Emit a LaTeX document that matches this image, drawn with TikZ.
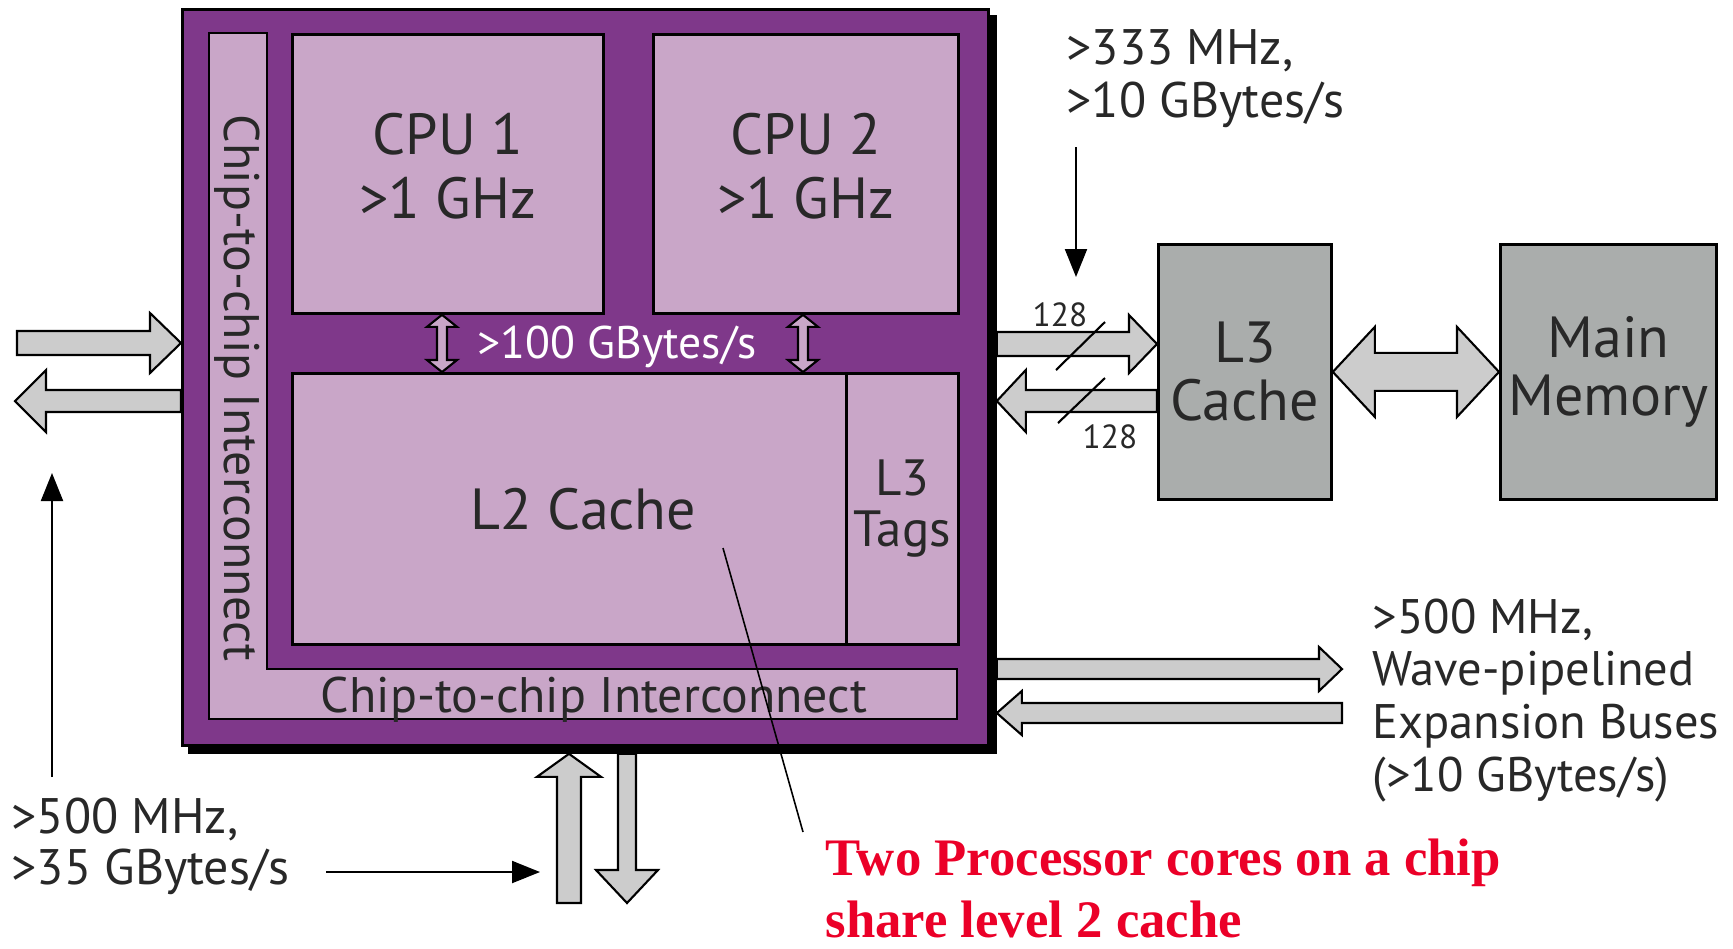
\documentclass[tikz,border=0pt]{standalone}
\usepackage{fontspec}
\setmainfont{PT Sans}
\newfontfamily\notefont{Liberation Serif}
\usepackage{xcolor}
\usepackage{tikz}
\usetikzlibrary{positioning,calc,arrows.meta}

\definecolor{chippurple}{RGB}{127,56,138}
\definecolor{lightpurple}{RGB}{201,166,200}
\definecolor{arrowgray}{RGB}{204,204,204}
\definecolor{boxgray}{RGB}{170,173,172}
\definecolor{textgray}{RGB}{40,40,40}
\definecolor{notered}{RGB}{235,0,40}

% block arrows: [style]{tail}{tip}{shaft half}{head half}{head offset from tip}
\newcommand\hblk[6][blk]{%
  \draw[#1] ($(#2)+(0,-#4)$) -- ($(#3)+(#6,-#4)$) -- ($(#3)+(#6,-#5)$) -- (#3)
    -- ($(#3)+(#6,#5)$) -- ($(#3)+(#6,#4)$) -- ($(#2)+(0,#4)$) -- cycle;}
\newcommand\vblk[6][blk]{%
  \draw[#1] ($(#2)+(-#4,0)$) -- ($(#3)+(-#4,#6)$) -- ($(#3)+(-#5,#6)$) -- (#3)
    -- ($(#3)+(#5,#6)$) -- ($(#3)+(#4,#6)$) -- ($(#2)+(#4,0)$) -- cycle;}
% double block arrows: [style]{first tip}{second tip}{shaft half}{head half}{head length}
\newcommand\hdbl[6][blk]{%
  \draw[#1] (#2) -- ($(#2)+(#6,-#5)$) -- ($(#2)+(#6,-#4)$) -- ($(#3)+(-#6,-#4)$) -- ($(#3)+(-#6,-#5)$) -- (#3)
    -- ($(#3)+(-#6,#5)$) -- ($(#3)+(-#6,#4)$) -- ($(#2)+(#6,#4)$) -- ($(#2)+(#6,#5)$) -- cycle;}
\newcommand\vdbl[6][blk]{%
  \draw[#1] (#2) -- ($(#2)+(-#5,#6)$) -- ($(#2)+(-#4,#6)$) -- ($(#3)+(-#4,-#6)$) -- ($(#3)+(-#5,-#6)$) -- (#3)
    -- ($(#3)+(#5,-#6)$) -- ($(#3)+(#4,-#6)$) -- ($(#2)+(#4,#6)$) -- ($(#2)+(#5,#6)$) -- cycle;}

\begin{document}
\begin{tikzpicture}[
  x=0.1mm, y=-0.1mm,
  font=\fontsize{16.5}{18}\selectfont, text=textgray,
  box/.style={draw, line width=0.8pt, inner sep=0pt, anchor=north west, align=center},
  core/.style={box, fill=lightpurple},
  mem/.style={box, fill=boxgray, font=\fontsize{16.5}{16.5}\selectfont},
  blk/.style={draw, line width=0.6pt, fill=arrowgray},
  bandarr/.style={draw, line width=0.6pt, fill=lightpurple},
  thin/.style={-{Triangle[length=2.8mm,width=2.2mm]}, line width=0.6pt},
  note/.style={font=\fontsize{14.2}{15.1}\selectfont, align=left, anchor=north west, inner sep=0pt},
  small/.style={font=\fontsize{9.5}{10}\selectfont, inner sep=0pt},
]
\useasboundingbox (0,0) rectangle (1733,948);

% chip
\node[box, fill=black, minimum width=80.6mm, minimum height=73.6mm] (chipshade) at (188,15) {};
\node[box, fill=chippurple, minimum width=80.6mm, minimum height=73.6mm] (chip) at (181,8) {};
\draw[line width=0.8pt, fill=lightpurple] (209,33) -| (267,669) -| (957,719) -- (209,719) -- cycle;
\node[rotate=-90, font=\fontsize{14.2}{16}\selectfont, inner sep=0pt] (icvert) at (237,388) {Chip-to-chip Interconnect};
\node[anchor=base, font=\fontsize{14.2}{16}\selectfont, inner sep=0pt] (ichoriz) at (594,712) {Chip-to-chip Interconnect};

\node[core, minimum width=31.1mm, minimum height=27.9mm, text depth=1.6mm] (cpuone) at (291,33) {CPU 1\\>1 GHz};
\node[core, minimum width=30.5mm, minimum height=27.9mm, text depth=1.6mm] (cputwo) at (652,33) {CPU 2\\>1 GHz};
\node[core, minimum width=55.4mm, minimum height=27.1mm] (ltwo) at (291,372) {\hspace*{2.8mm}L2 Cache};
\node[core, minimum width=11.2mm, minimum height=27.1mm, font=\fontsize{14.5}{14.5}\selectfont] (ltags) at (845,372) {L3\\Tags};

\node[anchor=base, text=white, font=\fontsize{13}{14}\selectfont, inner sep=0pt] (band) at (617,358) {>100 GBytes/s};
\coordinate (bwa) at (cpuone.south -| 442,0);
\coordinate (bwb) at (ltwo.north -| 442,0);
\coordinate (bwc) at (cputwo.south -| 803,0);
\coordinate (bwd) at (ltwo.north -| 803,0);
\vdbl[bandarr]{bwa}{bwb}{5}{15}{12}
\vdbl[bandarr]{bwc}{bwd}{5}{15}{12}

% memory side
\node[mem, minimum width=17.3mm, minimum height=25.5mm] (lthree) at (1157,243) {L3\\Cache};
\node[mem, minimum width=21.6mm, minimum height=25.5mm] (mainmem) at (1499,243) {Main\\Memory};
\hdbl{lthree.east}{mainmem.west}{19}{45}{42}

\coordinate (ra) at (chipshade.east |- 0,344);
\coordinate (rb) at (lthree.west |- 0,344);
\coordinate (rc) at (lthree.west |- 0,401);
\coordinate (rd) at (chipshade.east |- 0,401);
\hblk{ra}{rb}{12}{29}{-28}
\hblk{rc}{rd}{11}{31}{29}
\draw[line width=0.6pt] (1056,370) -- (1105,322);
\draw[line width=0.6pt] (1058,423) -- (1105,378);
\node[small] (wtop) at (1060,315) {128};
\node[small] (wbot) at (1110,437) {128};

\node[note] (l3note) at (1066,29) {>333 MHz,\\>10 GBytes/s};
\coordinate (l3a) at (1076,147);
\coordinate (l3b) at (1076,277);
\draw[thin] (l3a) -- (l3b);

% expansion buses
\coordinate (ea) at (chipshade.east |- 0,669);
\coordinate (eb) at (1342,669);
\coordinate (ec) at (1342,713);
\coordinate (ed) at (chipshade.east |- 0,713);
\hblk{ea}{eb}{10}{22}{-23}
\hblk{ec}{ed}{10}{22}{25}
\node[note, font=\fontsize{13.8}{15}\selectfont] (expnote) at (1372,598) {>500 MHz,\\Wave-pipelined\\Expansion Buses\\(>10 GBytes/s)};

% chip-to-chip
\coordinate (ca) at (17,343);
\coordinate (cb) at (chip.west |- 0,343);
\coordinate (cc) at (chip.west |- 0,401);
\coordinate (cd) at (15,401);
\hblk{ca}{cb}{12}{30}{-31}
\hblk{cc}{cd}{11}{31}{31}
\coordinate (cu) at (52,777);
\coordinate (cv) at (52,473);
\draw[thin] (cu) -- (cv);
\node[note, font=\fontsize{14.2}{14.5}\selectfont] (ccnote) at (11,797) {>500 MHz,\\>35 GBytes/s};

% bottom port
\coordinate (ua) at (569,903);
\coordinate (ub) at (chipshade.south -| 569,0);
\coordinate (da) at (chipshade.south -| 627,0);
\coordinate (db) at (627,903);
\vblk{ua}{ub}{12}{32}{23}
\vblk{da}{db}{9}{31}{-33}
\coordinate (pa) at (326,872);
\coordinate (pb) at (540,872);
\draw[thin] (pa) -- (pb);

% annotation
\node[anchor=north west, inner sep=0pt, align=left, text=notered,
      font=\notefont\bfseries\fontsize{15}{17.6}\selectfont] (remark) at (825,838) {Two Processor cores on a chip\\share level 2 cache};
\coordinate (rmk) at (723,548);
\coordinate (rmkend) at (803,832);
\draw[line width=0.45pt] (rmk) -- (rmkend);
\end{tikzpicture}
\end{document}
